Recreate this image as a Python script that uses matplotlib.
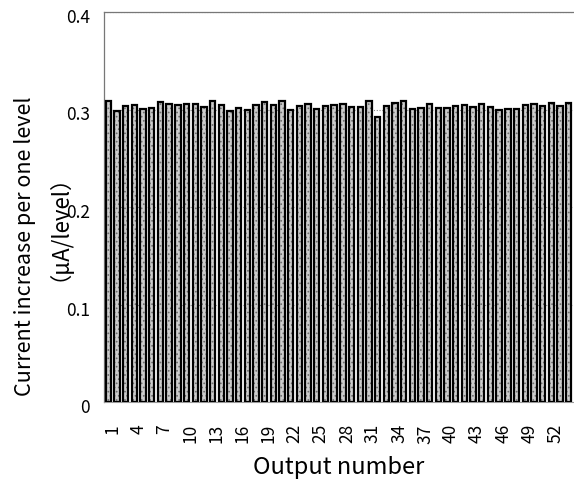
import matplotlib
matplotlib.use("Agg")
import matplotlib.pyplot as plt
import matplotlib.transforms as mtransforms
import numpy as np

plt.rcParams['font.family'] = ['Noto Sans CJK JP', 'DejaVu Sans']
plt.rcParams['hatch.linewidth'] = 0.7

outputs = list(range(1, 55))
current_step = [
    0.3087, 0.2985, 0.3036, 0.3049, 0.3005, 0.3015, 0.3074, 0.3056, 0.3046, 0.3056,
    0.3056, 0.3023, 0.3090, 0.3046, 0.2988, 0.3012, 0.2995, 0.3046, 0.3082, 0.3046,
    0.3092, 0.2990, 0.3036, 0.3056, 0.3005, 0.3041, 0.3043, 0.3059, 0.3026, 0.3021,
    0.3092, 0.2920, 0.3036, 0.3065, 0.3087, 0.3005, 0.3018, 0.3058, 0.3018, 0.3018,
    0.3036, 0.3048, 0.3021, 0.3058, 0.3026, 0.3000, 0.3002, 0.3010, 0.3044, 0.3058,
    0.3033, 0.3062, 0.3031, 0.3062,
]
xtick_labels = [str(i) for i in range(1, 55, 3)]
ytick_values = [0, 0.1, 0.2, 0.3, 0.4]
ytick_labels = ['0', '0.1', '0.2', '0.3', '0.4']

fig = plt.figure(figsize=(5.74, 4.82), dpi=100)
ax = fig.add_axes([104/574, 80/482, 469/574, 390/482])

# stippled grey fill
ax.bar(outputs, current_step, width=0.62, color='#cccccc', edgecolor='#707070',
       linewidth=0, hatch='....', zorder=3)
# black outline
ax.bar(outputs, current_step, width=0.62, fill=False, edgecolor='black',
       linewidth=1.6, zorder=4)

ax.set_xlim(0.5, 54.5)
ax.set_ylim(0, 0.4)
ax.set_yticks(ytick_values)
ax.set_yticklabels(ytick_labels, fontsize=12.5)
ax.set_xticks(list(range(1, 55, 3)))
ax.set_xticklabels(xtick_labels, rotation=90, fontsize=12.5)
ax.tick_params(axis='y', length=0, pad=10)
ax.tick_params(axis='x', length=0, pad=16)

off_y = mtransforms.ScaledTranslation(0, -4/100, fig.dpi_scale_trans)
for lab in ax.get_yticklabels():
    lab.set_transform(lab.get_transform() + off_y)
off_x = mtransforms.ScaledTranslation(4/100, 0, fig.dpi_scale_trans)
for lab in ax.get_xticklabels():
    lab.set_transform(lab.get_transform() + off_x)

ax.grid(axis='y', color='#888888', linestyle=(0, (1, 1.5)), linewidth=0.8, zorder=1)
for s in ['top', 'left']:
    ax.spines[s].set_color('#777777')
    ax.spines[s].set_linewidth(0.9)
ax.spines['right'].set_visible(False)
ax.spines['bottom'].set_color('#999999')

ax.set_xlabel('Output number', fontsize=17, labelpad=9)
fig.text(25/574, 1 - 246/482, 'Current increase per one level', rotation=90,
         ha='center', va='center', fontsize=15.5)
fig.text(47/574, 1 - 216/482, '（μA/level）', rotation=90,
         ha='center', va='center', fontsize=16)

fig.savefig('out.png', dpi=100)
